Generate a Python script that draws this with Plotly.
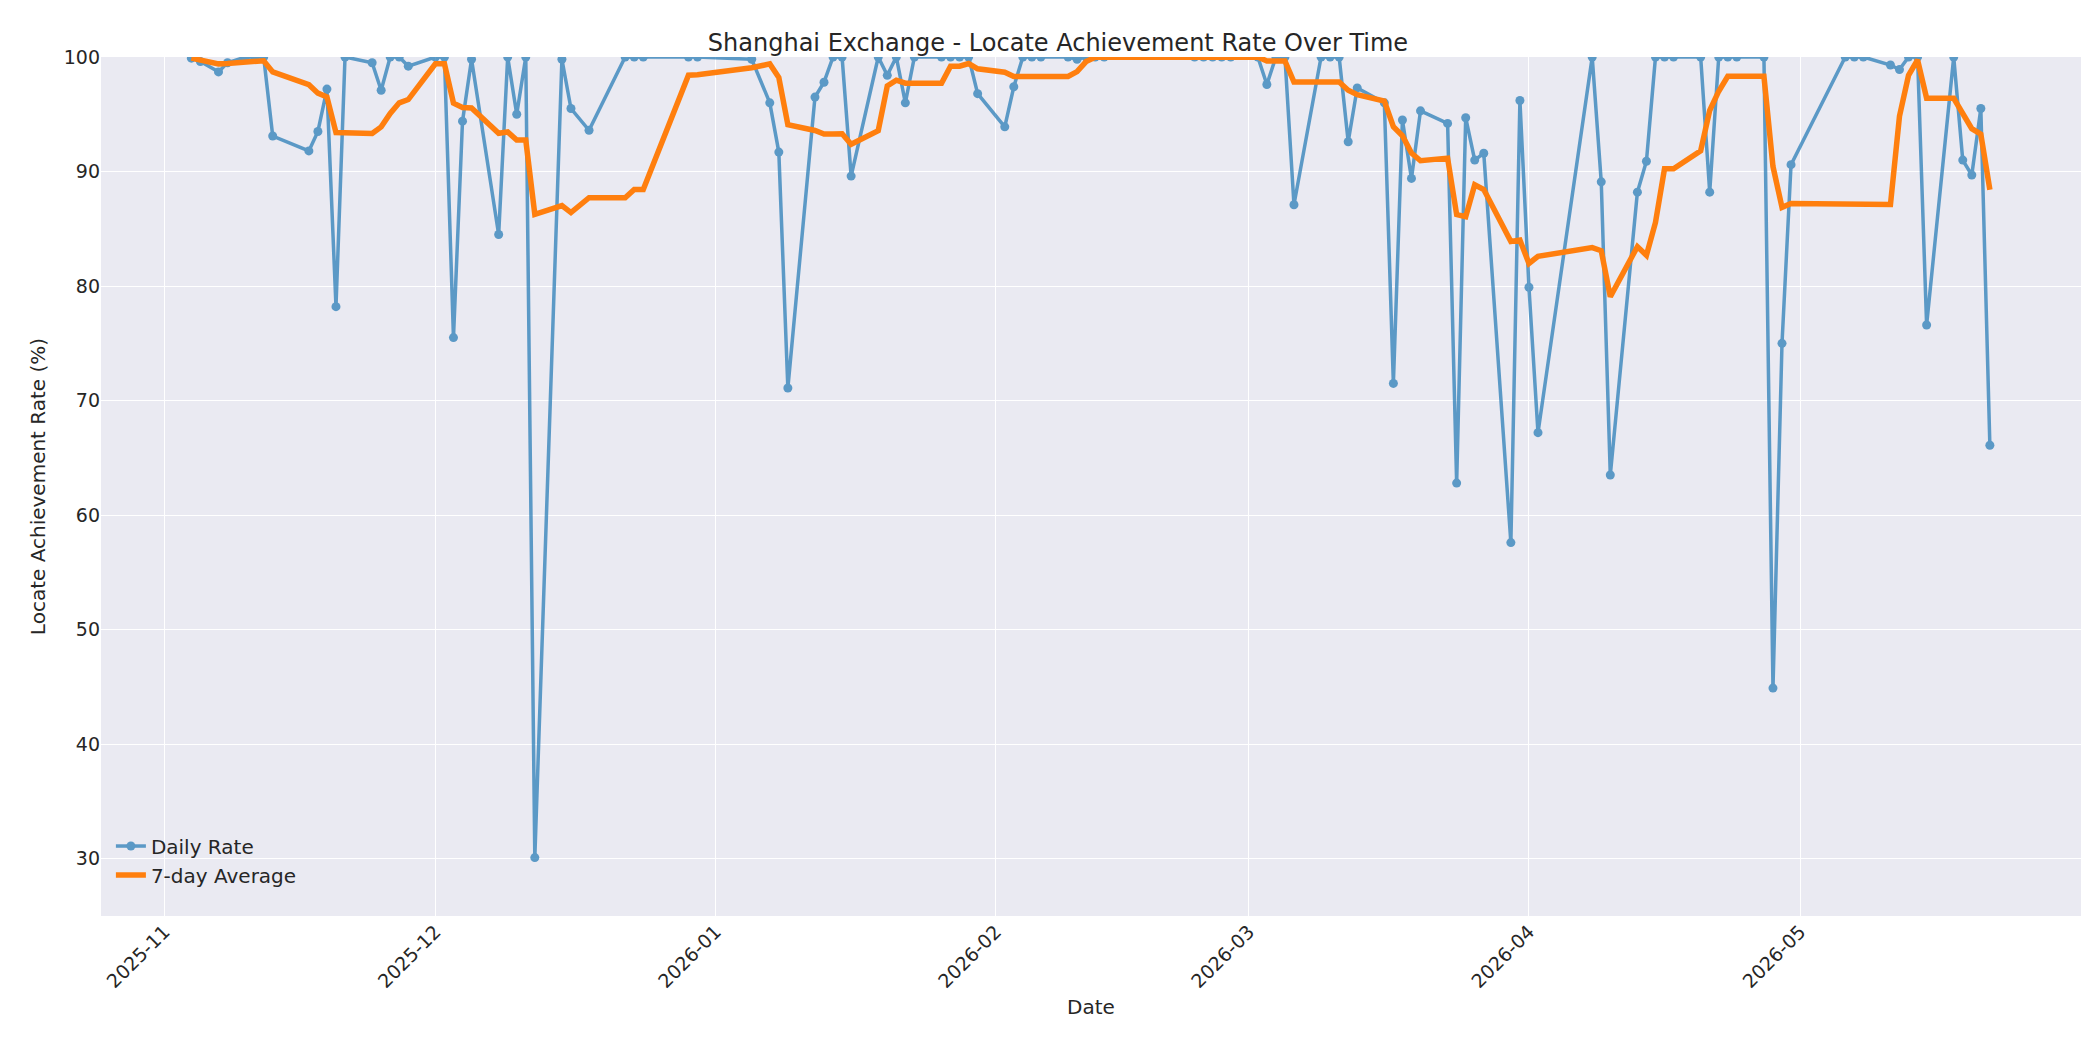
import pandas as pd
import plotly.graph_objects as go

dates = ["2025-11-04","2025-11-05","2025-11-07","2025-11-08","2025-11-10","2025-11-11","2025-11-12","2025-11-13",
"2025-11-17","2025-11-18","2025-11-19","2025-11-20","2025-11-21","2025-11-24","2025-11-25","2025-11-26","2025-11-27","2025-11-28",
"2025-12-01","2025-12-02","2025-12-03","2025-12-04","2025-12-05","2025-12-08","2025-12-09","2025-12-10","2025-12-11","2025-12-12",
"2025-12-15","2025-12-16","2025-12-18","2025-12-22","2025-12-23","2025-12-24","2025-12-29","2025-12-30",
"2026-01-05","2026-01-07","2026-01-08","2026-01-09","2026-01-12","2026-01-13","2026-01-14","2026-01-15","2026-01-16",
"2026-01-19","2026-01-20","2026-01-21","2026-01-22","2026-01-23","2026-01-26","2026-01-27","2026-01-28","2026-01-29","2026-01-30",
"2026-02-02","2026-02-03","2026-02-04","2026-02-05","2026-02-06","2026-02-09","2026-02-10","2026-02-11","2026-02-12","2026-02-13",
"2026-02-23","2026-02-24","2026-02-25","2026-02-26","2026-02-27",
"2026-03-02","2026-03-03","2026-03-04","2026-03-05","2026-03-06","2026-03-09","2026-03-10","2026-03-11","2026-03-12","2026-03-13",
"2026-03-16","2026-03-17","2026-03-18","2026-03-19","2026-03-20","2026-03-23","2026-03-24","2026-03-25","2026-03-26","2026-03-27",
"2026-03-30","2026-03-31","2026-04-01","2026-04-02","2026-04-08","2026-04-09","2026-04-10",
"2026-04-13","2026-04-14","2026-04-15","2026-04-16","2026-04-17","2026-04-20","2026-04-21","2026-04-22","2026-04-23","2026-04-24",
"2026-04-27","2026-04-28","2026-04-29","2026-04-30","2026-05-06","2026-05-07","2026-05-08",
"2026-05-11","2026-05-12","2026-05-13","2026-05-14","2026-05-15","2026-05-18","2026-05-19","2026-05-20","2026-05-21","2026-05-22"]

daily_rate = [99.9,99.6,98.7,99.5,100,100,100,93.1,
91.8,93.5,97.2,78.2,100,99.5,97.1,100,100,99.2,
100,100,75.5,94.4,99.8,84.5,100,95.0,100,30.1,
99.8,95.5,93.6,100,100,100,100,100,
99.8,96.0,91.7,71.1,96.5,97.8,100,100,89.6,
100,98.4,100,96.0,100,100,100,100,100,96.8,
93.9,97.4,100,100,100,100,99.8,100,100,100,
100,100,100,100,100,
100,97.6,100,100,87.1,100,100,100,92.6,97.3,
96.0,71.5,94.5,89.4,95.3,94.2,62.8,94.7,91.0,91.6,
57.6,96.2,79.9,67.2,100,89.1,63.5,
88.2,90.9,100,100,100,100,88.2,100,100,100,
100,44.9,75.0,90.6,100,100,100,
99.3,98.9,100,100,76.6,100,91.0,89.7,95.5,66.1]

df = pd.DataFrame({"date": pd.to_datetime(dates), "rate": daily_rate})
df["avg7"] = df["rate"].rolling(7, min_periods=1).mean()

fig = go.Figure()
fig.add_trace(go.Scatter(x=df["date"], y=df["rate"], mode="lines+markers", name="Daily Rate",
                         line=dict(color="#1f77b4", width=3.5), marker=dict(size=9, color="#1f77b4"), opacity=0.7))
fig.add_trace(go.Scatter(x=df["date"], y=df["avg7"], mode="lines", name="7-day Average",
                         line=dict(color="#ff7f0e", width=5.5)))

fig.update_layout(
    width=2100, height=1050,
    title=dict(text="Shanghai Exchange - Locate Achievement Rate Over Time", x=0.5, xanchor="center", y=0.975,
               font=dict(size=24, color="#262626")),
    font=dict(family="DejaVu Sans", size=19, color="#262626"),
    paper_bgcolor="white", plot_bgcolor="#EAEAF2",
    margin=dict(l=93, r=27, t=49, b=142),
    legend=dict(x=0.005, y=0.025, xanchor="left", yanchor="bottom", bgcolor="rgba(0,0,0,0)", font=dict(size=20)),
    xaxis=dict(title=dict(text="Date", font=dict(size=20), standoff=8), range=["2025-10-25", "2026-06-01 02:00"],
               tickvals=["2025-11-01","2025-12-01","2026-01-01","2026-02-01","2026-03-01","2026-04-01","2026-05-01"],
               tickformat="%Y-%m", tickangle=-45, gridcolor="white", showline=False, zeroline=False, automargin=False),
    yaxis=dict(title=dict(text="Locate Achievement Rate (%)", font=dict(size=20), standoff=12), range=[25, 100], dtick=10, tick0=0,
               gridcolor="white", zeroline=False, automargin=False),
)
fig.write_html("out.html")
